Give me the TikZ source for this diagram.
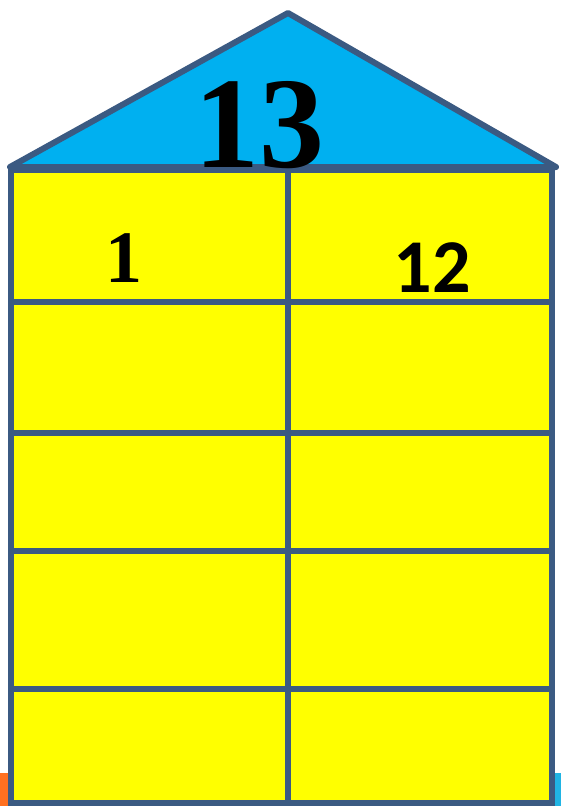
\documentclass[tikz,border=0pt]{standalone}
\usepackage{fontspec}
\setmainfont{Liberation Serif}
\newfontfamily\numsans{Carlito}
\definecolor{edge}{HTML}{3B5A82}
\definecolor{roof}{HTML}{00B0F0}
\definecolor{wall}{HTML}{FFFF00}
\definecolor{orng}{HTML}{FF7020}
\definecolor{cyn}{HTML}{20B4E4}
\tikzset{
  gridline/.style={draw=edge, line width=6.5pt},
  lbl/.style={inner sep=0pt, anchor=center, text=black}
}
\begin{document}
\begin{tikzpicture}[x=1pt, y=-1pt]
\useasboundingbox (0,0) rectangle (561,806);
% small side patches
\fill[orng] (0,773) rectangle (9,806);
\fill[cyn] (555,773) rectangle (561,806);
% roof
\filldraw[fill=roof, draw=edge, line width=6pt, line join=round] (10,167) -- (288,13) -- (556,167) -- cycle;
% wall
\fill[wall] (11,170) rectangle (552,803);
\foreach \y in {170,302,433,551,689,803} {\draw[gridline] (8,\y) -- (555,\y);}
\foreach \x in {11,288,552} {\draw[gridline] (\x,167) -- (\x,806);}
% labels
\node[lbl, font=\fontsize{130}{130}\selectfont\bfseries] (top) at (259,125) {13};
\node[lbl, font=\fontsize{74}{74}\selectfont\bfseries] (left) at (124,258) {1};
\node[lbl, font=\fontsize{76}{76}\selectfont\numsans\bfseries] (right) at (432,268) {12};
\end{tikzpicture}
\end{document}
